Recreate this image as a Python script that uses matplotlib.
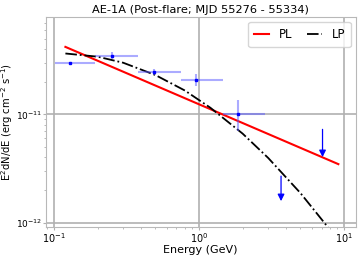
import numpy as np
import matplotlib
matplotlib.use("Agg")
import matplotlib.pyplot as plt
from matplotlib.ticker import NullFormatter

# flux points (GeV, erg cm^-2 s^-1)
energy = [0.129, 0.251, 0.489, 0.96, 1.87]
e_low = [0.101, 0.193, 0.378, 0.748, 1.46]
e_high = [0.193, 0.378, 0.748, 1.46, 2.85]
flux = [2.99e-11, 3.47e-11, 2.46e-11, 2.09e-11, 1.01e-11]
flux_low = [2.95e-11, 3.23e-11, 2.31e-11, 1.82e-11, 7.06e-12]
flux_high = [3.03e-11, 3.73e-11, 2.62e-11, 2.35e-11, 1.35e-11]

# upper limits
ul_energy = [3.68, 7.11]
ul_top = [2.69e-12, 7.27e-12]
ul_head = [1.58e-12, 4.03e-12]

# model curves
pl_energy = [0.12, 9.14]
pl_flux = [4.2e-11, 3.47e-12]
lp_energy = [0.12, 0.2, 0.3, 0.5, 0.8, 1.2, 2.0, 3.0, 5.0, 8.0]
lp_flux = [3.65e-11, 3.41e-11, 3.0e-11, 2.31e-11, 1.66e-11, 1.15e-11,
           6.64e-12, 3.96e-12, 1.88e-12, 8.6e-13]

xticks = [0.1, 1, 10]
yticks = [1e-12, 1e-11]

fig = plt.figure(figsize=(3.6, 2.63), dpi=100)
ax = fig.add_axes([0.127, 0.136, 0.8605, 0.798])

energy = np.array(energy)
flux = np.array(flux)
xerr = [energy - np.array(e_low), np.array(e_high) - energy]
yerr = [flux - np.array(flux_low), np.array(flux_high) - flux]
ax.errorbar(energy, flux, xerr=xerr, yerr=yerr, fmt='s', color='blue', ms=2,
            ecolor=(0.35, 0.35, 1.0, 0.5), elinewidth=1.5, zorder=3)

for x, yt, yh in zip(ul_energy, ul_top, ul_head):
    ax.annotate('', xy=(x, yh), xytext=(x, yt),
                arrowprops=dict(arrowstyle='-|>', color='blue', lw=0.9,
                                mutation_scale=10, shrinkA=0, shrinkB=0))

ax.plot(pl_energy, pl_flux, color='red', lw=1.5, label='PL')
ax.plot(lp_energy, lp_flux, color='black', lw=1.3, ls='-.', label='LP')

ax.set_xscale('log')
ax.set_yscale('log')
ax.set_xticks(xticks)
ax.set_yticks(yticks)
ax.xaxis.set_minor_formatter(NullFormatter())
ax.yaxis.set_minor_formatter(NullFormatter())
ax.set_xlim(0.0878, 12.0)
ax.set_ylim(9.07e-13, 7.87e-11)

ax.grid(True, which='major', color='#b0b0b0', lw=1.2)
for s in ax.spines.values():
    s.set_color('#b8b8b8')
ax.tick_params(which='both', colors='#b0b0b0', labelcolor='black',
               labelsize=7, pad=1)
ax.tick_params(axis='y', labelsize=6.5, pad=0.5)
ax.tick_params(which='major', length=2)
ax.tick_params(which='minor', length=1.5)

ax.set_title('AE-1A (Post-flare; MJD 55276 - 55334)', fontsize=8.2, pad=3)
ax.set_xlabel('Energy (GeV)', fontsize=8, labelpad=0)
ax.set_ylabel(r'E$^2$dN/dE (erg cm$^{-2}$ s$^{-1}$)', fontsize=7.2, labelpad=0.5)

ax.legend(loc='upper right', ncol=2, fontsize=8.5, handlelength=1.3,
          columnspacing=1.2, borderaxespad=0.4, borderpad=0.5)

fig.savefig('out.png', dpi=100)
